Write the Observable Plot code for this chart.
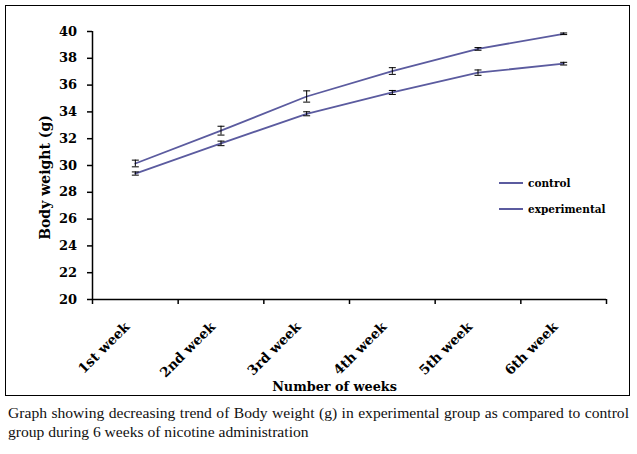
<!DOCTYPE html>
<html>
<head>
<meta charset="utf-8">
<script src="https://cdn.jsdelivr.net/npm/d3@7"></script>
<script src="https://cdn.jsdelivr.net/npm/@observablehq/plot@0.6"></script>
<style>
  html, body { margin: 0; padding: 0; background: #fff; }
  #wrap { position: relative; width: 637px; height: 454px; }
  #chart { position: absolute; left: 0; top: 0; }
  #frame { position: absolute; left: 5px; top: 5px; width: 625px; height: 391px; border: 1.5px solid #000; box-sizing: border-box; pointer-events: none; }
  #legend { position: absolute; left: 499px; top: 175px; font-family: "DejaVu Serif", serif; font-weight: bold; font-size: 10.5px; color: #000; }
  #legend .item { display: flex; align-items: center; height: 16px; margin-bottom: 10px; }
  #legend .swatch { width: 24px; height: 2px; margin-right: 5px; }
  #caption { position: absolute; left: 8px; top: 403px; width: 621px; font-family: "Liberation Serif", serif; font-size: 15.6px; line-height: 19px; color: #111; }
  #caption .l1 { text-align: justify; text-align-last: justify; white-space: nowrap; }
</style>
</head>
<body>
<div id="wrap">
  <div id="chart"></div>
  <div id="frame"></div>
  <div id="legend"></div>
  <div id="caption"></div>
</div>
<script>
const weeks = ["1st week", "2nd week", "3rd week", "4th week", "5th week", "6th week"];
const seriesNames = ["control", "experimental"];
const control = [30.15, 32.6, 35.15, 37.05, 38.7, 39.83];
const experimental = [29.4, 31.65, 33.86, 35.45, 36.93, 37.6];
const controlErr = [0.25, 0.33, 0.42, 0.25, 0.1, 0.06];
const experimentalErr = [0.12, 0.17, 0.15, 0.15, 0.2, 0.1];
const yTicks = [20, 22, 24, 26, 28, 30, 32, 34, 36, 38, 40];
const yLabel = "Body weight (g)";
const xLabel = "Number of weeks";
const captionLines = [
  "Graph showing decreasing trend of Body weight (g) in experimental group as compared to control",
  "group during 6 weeks of nicotine administration"
];
const lineColor = "#5b5b9f";

const values = {control, experimental};
const errors = {control: controlErr, experimental: experimentalErr};
const rows = seriesNames.flatMap(g => weeks.map((w, i) => ({
  group: g, week: w, pos: i + 0.5, value: values[g][i], err: errors[g][i]
})));
const boundaries = d3.range(weeks.length + 1);
const centers = weeks.map((w, i) => i + 0.5);

const cap = {
  draw(context, size) {
    const r = Math.sqrt(size / Math.PI);
    context.moveTo(-r, 0);
    context.lineTo(r, 0);
  }
};

const font = "DejaVu Serif";

const chart = Plot.plot({
  width: 637,
  height: 400,
  marginLeft: 92,
  marginRight: 31,
  marginTop: 31,
  marginBottom: 101,
  style: {fontFamily: font, fontWeight: "bold", color: "#000", background: "transparent"},
  x: {type: "linear", domain: [0, weeks.length]},
  y: {domain: [20, 40]},
  marks: [
    Plot.ruleY([20], {stroke: "#000", strokeWidth: 1.5}),
    Plot.ruleX([0], {stroke: "#000", strokeWidth: 1.5}),
    Plot.axisY({ticks: yTicks, tickSize: 5, tickPadding: 10.5, label: null, fontSize: 13, fontWeight: "bold", strokeWidth: 1.5}),
    Plot.axisX({ticks: boundaries, tickSize: 5, tickFormat: () => "", label: null, strokeWidth: 1.5}),
    Plot.axisX({ticks: centers, tickSize: 0, tickPadding: 25, dx: -8, tickRotate: -45, tickFormat: d => weeks[Math.floor(d)], label: null, fontSize: 13.5, fontWeight: "bold"}),
    Plot.line(rows, {x: "pos", y: "value", z: "group", stroke: lineColor, strokeWidth: 1.8}),
    Plot.ruleX(rows, {x: "pos", y1: d => d.value - d.err, y2: d => d.value + d.err, stroke: "#000", strokeWidth: 1}),
    Plot.dot(rows, {x: "pos", y: d => d.value + d.err, symbol: cap, r: 3.5, stroke: "#000", fill: "none", strokeWidth: 1}),
    Plot.dot(rows, {x: "pos", y: d => d.value - d.err, symbol: cap, r: 3.5, stroke: "#000", fill: "none", strokeWidth: 1}),
    Plot.text([yLabel], {frameAnchor: "left", textAnchor: "middle", rotate: -90, dx: -47, dy: 12, fontSize: 14, fontWeight: "bold"}),
    Plot.text([xLabel], {frameAnchor: "bottom", textAnchor: "middle", lineAnchor: "bottom", dx: -15, dy: 91, fontSize: 12.8, fontWeight: "bold"})
  ]
});
document.getElementById("chart").appendChild(chart);

const legend = document.getElementById("legend");
seriesNames.forEach(name => {
  const item = document.createElement("div");
  item.className = "item";
  const sw = document.createElement("div");
  sw.className = "swatch";
  sw.style.background = lineColor;
  const label = document.createElement("span");
  label.textContent = name;
  item.appendChild(sw);
  item.appendChild(label);
  legend.appendChild(item);
});

const caption = document.getElementById("caption");
captionLines.forEach((t, i) => {
  const d = document.createElement("div");
  if (i === 0) d.className = "l1";
  d.textContent = t;
  caption.appendChild(d);
});
</script>
</body>
</html>
